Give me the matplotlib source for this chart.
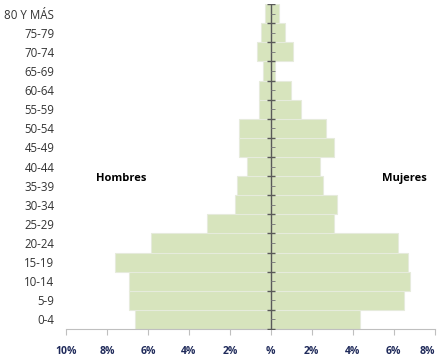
import matplotlib.pyplot as plt
import numpy as np

# --- Data (percent of population) ---
age_groups = ["0-4", "5-9", "10-14", "15-19", "20-24", "25-29", "30-34", "35-39",
              "40-44", "45-49", "50-54", "55-59", "60-64", "65-69", "70-74",
              "75-79", "80 Y MÁS"]
hombres = [6.63, 6.93, 6.93, 7.61, 5.85, 3.12, 1.76, 1.66,
           1.17, 1.56, 1.56, 0.59, 0.59, 0.39, 0.68, 0.49, 0.29]
mujeres = [4.33, 6.51, 6.80, 6.70, 6.21, 3.06, 3.25, 2.57,
           2.38, 3.06, 2.67, 1.48, 0.99, 0.21, 1.09, 0.70, 0.41]
x_ticks = [-10, -8, -6, -4, -2, 0, 2, 4, 6, 8]
x_labels = ["10%", "8%", "6%", "4%", "2%", "%", "2%", "4%", "6%", "8%"]

plt.rcParams['font.family'] = ['Open Sans', 'DejaVu Sans']

fig = plt.figure(figsize=(4.4, 3.59), dpi=100)
ax = fig.add_axes([0.15, 0.0836, 0.838, 0.905])

y = np.arange(len(age_groups))
bar_style = dict(height=1.0, color='#d7e4bd', edgecolor='#e6ebdc', linewidth=0.8)
ax.barh(y, [-v for v in hombres], **bar_style)
ax.barh(y, mujeres, **bar_style)

ax.set_xlim(-10, 8)
ax.set_ylim(-0.5, len(age_groups) - 0.5)

# y labels on the left, no tick marks
ax.set_yticks(y)
ax.set_yticklabels(age_groups, fontsize=8.3, color='#333333')
ax.tick_params(axis='y', length=0, pad=8.5)

# bottom axis
ax.set_xticks(x_ticks)
ax.set_xticklabels(x_labels, fontsize=7.5, fontweight='bold', color='#1f2a5a')
ax.tick_params(axis='x', length=4, color='#bfbfbf', pad=8)
ax.get_xticklabels()[-1].set_ha('right')

for side in ['left', 'right', 'top']:
    ax.spines[side].set_visible(False)
ax.spines['bottom'].set_color('#bfbfbf')

# central vertical axis with tick marks
ax.axvline(0, color='#595959', linewidth=1.0, zorder=3)
bounds = np.append(y - 0.5, y[-1] + 0.5)
ax.plot(np.zeros(len(bounds)), bounds, linestyle='none', marker='_',
        markersize=6, markeredgewidth=1.0, color='#595959', zorder=3)
ax.plot(np.zeros(len(y)), y, linestyle='none', marker=1,
        markersize=3, markeredgewidth=0.7, color='#808080', zorder=3)

ax.text(-7.3, 7.35, "Hombres", fontsize=8, fontweight='bold', ha='center', va='center')
ax.text(6.5, 7.35, "Mujeres", fontsize=8, fontweight='bold', ha='center', va='center')

fig.savefig("out.png", dpi=100)
